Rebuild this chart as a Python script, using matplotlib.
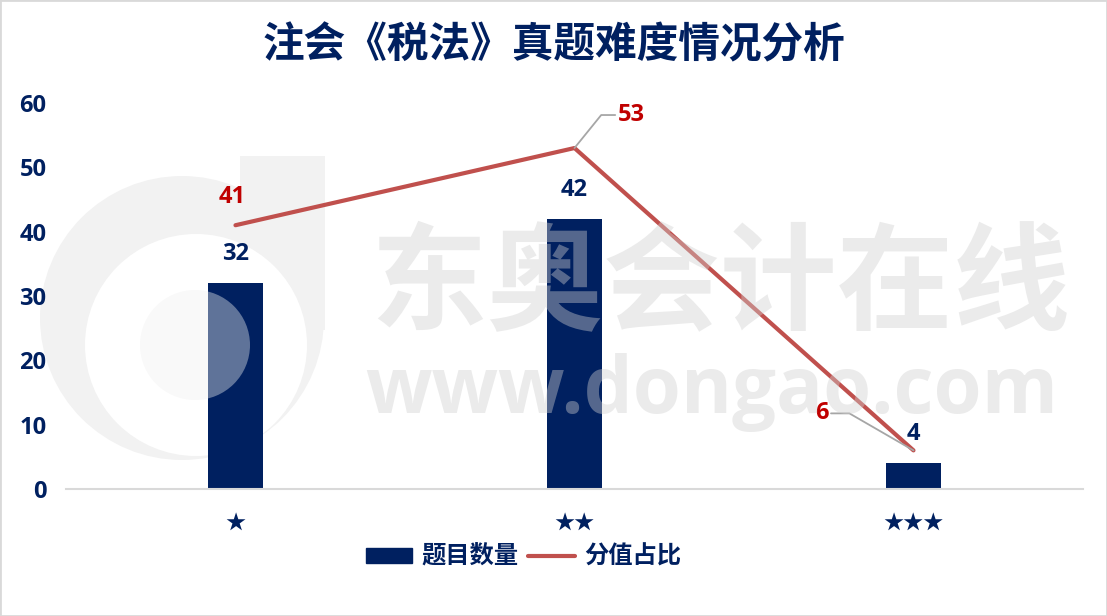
import matplotlib
matplotlib.use("Agg")
import matplotlib.pyplot as plt
from matplotlib.patches import Rectangle, Circle
from matplotlib.lines import Line2D

CJK = ["Noto Sans CJK SC", "DejaVu Sans"]
NUM = ["Open Sans", "DejaVu Sans"]
NAVY = "#002060"
RED_LINE = "#C0504D"
RED_TXT = "#C00000"

# data
categories = ["★", "★★", "★★★"]
count = [32, 42, 4]          # 题目数量
score = [41, 53, 6]          # 分值占比
title = "注会《税法》真题难度情况分析"
legend_labels = ["题目数量", "分值占比"]

fig = plt.figure(figsize=(11.07, 6.16), dpi=100)
ax = fig.add_axes([0.0596, 0.2062, 0.9187, 0.6266])
ax.set_facecolor("none")
x = list(range(len(categories)))

ax.bar(x, count, width=0.165, color=NAVY, zorder=2)
ax.plot(x, score, color=RED_LINE, lw=3, solid_capstyle="round", zorder=3)

ax.set_xlim(-0.5, len(categories) - 0.5)
ax.set_ylim(0, 60)
ax.set_yticks(range(0, 61, 10))
ax.set_xticks(x)
ax.set_xticklabels(categories, family=CJK, fontsize=14.5, color=NAVY)
for lb in ax.get_yticklabels():
    lb.set_family(NUM); lb.set_fontsize(17); lb.set_weight("bold"); lb.set_color(NAVY)
ax.tick_params(axis="y", length=0, pad=14)
ax.tick_params(axis="x", length=0, pad=17)
for s in ["top", "right", "left"]:
    ax.spines[s].set_visible(False)
ax.spines["bottom"].set_color("#d9d9d9")
ax.spines["bottom"].set_linewidth(1.5)

# bar value labels
for xi, v in zip(x, count):
    ax.annotate(str(v), (xi, v), xytext=(0, 29), textcoords="offset pixels",
                ha="center", va="center", family=NUM, fontsize=17,
                weight="bold", color=NAVY, zorder=4)

# line value labels
ax.annotate(str(score[0]), (x[0], score[0]), xytext=(-3, 28), textcoords="offset pixels",
            ha="center", va="center", family=NUM, fontsize=17, weight="bold",
            color=RED_TXT, zorder=4)
ax.annotate(str(score[1]), (x[1], score[1]), xytext=(57, 33), textcoords="offset pixels",
            ha="center", va="center", family=NUM, fontsize=17, weight="bold",
            color=RED_TXT, zorder=4,
            arrowprops=dict(arrowstyle="-", color="#a6a6a6", lw=1.3, shrinkA=0, shrinkB=0,
                            connectionstyle="angle,angleA=0,angleB=51,rad=0"))
ax.annotate(str(score[2]), (x[2], score[2]), xytext=(-92, 37), textcoords="offset pixels",
            ha="center", va="center", family=NUM, fontsize=17, weight="bold",
            color=RED_TXT, zorder=4,
            arrowprops=dict(arrowstyle="-", color="#a6a6a6", lw=1.3, shrinkA=0, shrinkB=0,
                            connectionstyle="angle,angleA=0,angleB=150,rad=0"))

fig.text(0.5, 0.927, title, ha="center", va="center", family=CJK, fontsize=30,
         weight="bold", color=NAVY)

handles = [Rectangle((0, 0), 1, 1, color=NAVY),
           Line2D([0], [0], color=RED_LINE, lw=3, solid_capstyle="round")]
leg = fig.legend(handles, legend_labels, loc="center", bbox_to_anchor=(0.473, 0.0958),
                 ncol=2, frameon=False, handlelength=1.9, handleheight=0.55,
                 handletextpad=0.4, columnspacing=0.4,
                 prop={"family": CJK, "size": 17.5, "weight": "bold"})
for t in leg.get_texts():
    t.set_color(NAVY)

# watermark logo (pixel coords -> inches), behind the chart
def px(xp, yp):
    return (xp / 100, (616 - yp) / 100)

tr = fig.dpi_scale_trans
fig.patches.append(Circle(px(182, 318), 1.42, transform=tr, color="#f2f2f2", lw=0, zorder=-3))
fig.patches.append(Rectangle(px(240, 330), 0.85, 1.74, transform=tr, color="#f2f2f2", lw=0, zorder=-3))
fig.patches.append(Circle(px(196, 345), 1.11, transform=tr, color="white", lw=0, zorder=-2))
fig.patches.append(Circle(px(195, 345), 0.55, transform=tr, color="#f0f0f0", alpha=0.4, lw=0, zorder=5))

fig.text(720 / 1107, (616 - 287) / 616, "东奥会计在线", ha="center", va="center",
         family=CJK, fontsize=84, weight="bold", color="#cfcfcf", alpha=0.41, zorder=6)
fig.text(712 / 1107, (616 - 393) / 616, "www.dongao.com", ha="center", va="center",
         family=NUM, fontsize=56, weight="bold", color="#cfcfcf", alpha=0.41, zorder=6)

fig.patches.append(Rectangle((0, 0), 1, 1, transform=fig.transFigure, fill=False,
                             edgecolor="#d9d9d9", lw=2, zorder=10))

fig.savefig("out.png", dpi=100)
